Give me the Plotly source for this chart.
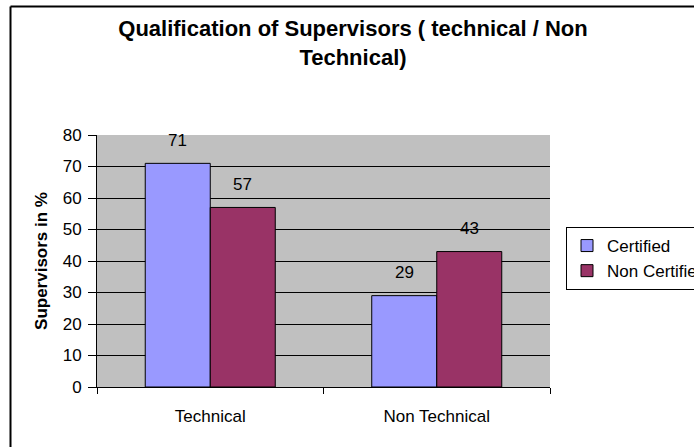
import plotly.graph_objects as go

# данные
categories = ["Technical", "Non Technical"]
certified = [71, 29]
non_certified = [57, 43]
series_names = ["Certified", "Non Certified"]

W, H = 694, 447
ML, MR, MT, MB = 97, 144, 135, 60
pw = W - ML - MR
ph = H - MT - MB
BAR_PX = 65  # ширина одного столбца в пикселях


def px_x(x):
    return (x - ML) / pw


def px_y(y):
    return (H - MB - y) / ph


FONT = "Liberation Sans, Arial"
LBL = 17

fig = go.Figure()
fig.add_trace(go.Bar(
    x=categories, y=certified, name=series_names[0], legendgroup="a",
    marker=dict(color="#9999FF", line=dict(color="black", width=1)),
))
fig.add_trace(go.Bar(
    x=categories, y=non_certified, name=series_names[1], legendgroup="b",
    marker=dict(color="#993366", line=dict(color="black", width=1)),
))

# подписи значений над столбцами
for vals, shift in [(certified, -BAR_PX / 2), (non_certified, BAR_PX / 2)]:
    for cat, v in zip(categories, vals):
        fig.add_annotation(x=cat, y=v, text=str(v), showarrow=False,
                           xshift=shift, yshift=23, yanchor="middle",
                           font=dict(size=LBL, color="black"))

fig.update_layout(
    width=W, height=H,
    margin=dict(l=ML, r=MR, t=MT, b=MB, autoexpand=False),
    paper_bgcolor="white",
    plot_bgcolor="#C0C0C0",
    font=dict(family=FONT, size=LBL, color="black"),
    barmode="group",
    bargap=0.426,
    bargroupgap=0,
    title=dict(
        text="<b>Qualification of Supervisors ( technical / Non<br>Technical)</b>",
        font=dict(size=22),
        x=px_x(353), xref="paper", xanchor="center",
        y=1 - 36 / H, yref="container", yanchor="middle",
    ),
    legend=dict(
        x=px_x(566), y=px_y(227), xanchor="left", yanchor="top",
        bordercolor="black", borderwidth=1, bgcolor="white",
        font=dict(size=LBL), traceorder="normal", tracegroupgap=4,
    ),
    showlegend=True,
)

fig.update_xaxes(
    showline=True, linecolor="black", linewidth=1,
    ticks="outside", tickson="boundaries", ticklen=6, tickcolor="black",
    ticklabelstandoff=14,
    showgrid=False,
)
fig.update_yaxes(
    range=[0, 80], dtick=10,
    showline=True, linecolor="black", linewidth=1,
    ticks="outside", ticklen=8, tickcolor="black",
    ticklabelstandoff=3,
    gridcolor="black", gridwidth=1,
    zeroline=False,
    title=dict(text="<b>Supervisors in %</b>", font=dict(size=LBL), standoff=10),
)

# рамка вокруг диаграммы
fig.add_shape(type="line", xref="paper", yref="paper",
              x0=px_x(10.5), x1=px_x(10.5), y0=px_y(6.5), y1=px_y(460),
              line=dict(color="black", width=2))
fig.add_shape(type="line", xref="paper", yref="paper",
              x0=px_x(10.5), x1=px_x(720), y0=px_y(6.5), y1=px_y(6.5),
              line=dict(color="black", width=2))

fig.write_html("out.html", config={"displayModeBar": False},
               post_script="document.body.style.margin='0';document.body.style.overflow='hidden';")
